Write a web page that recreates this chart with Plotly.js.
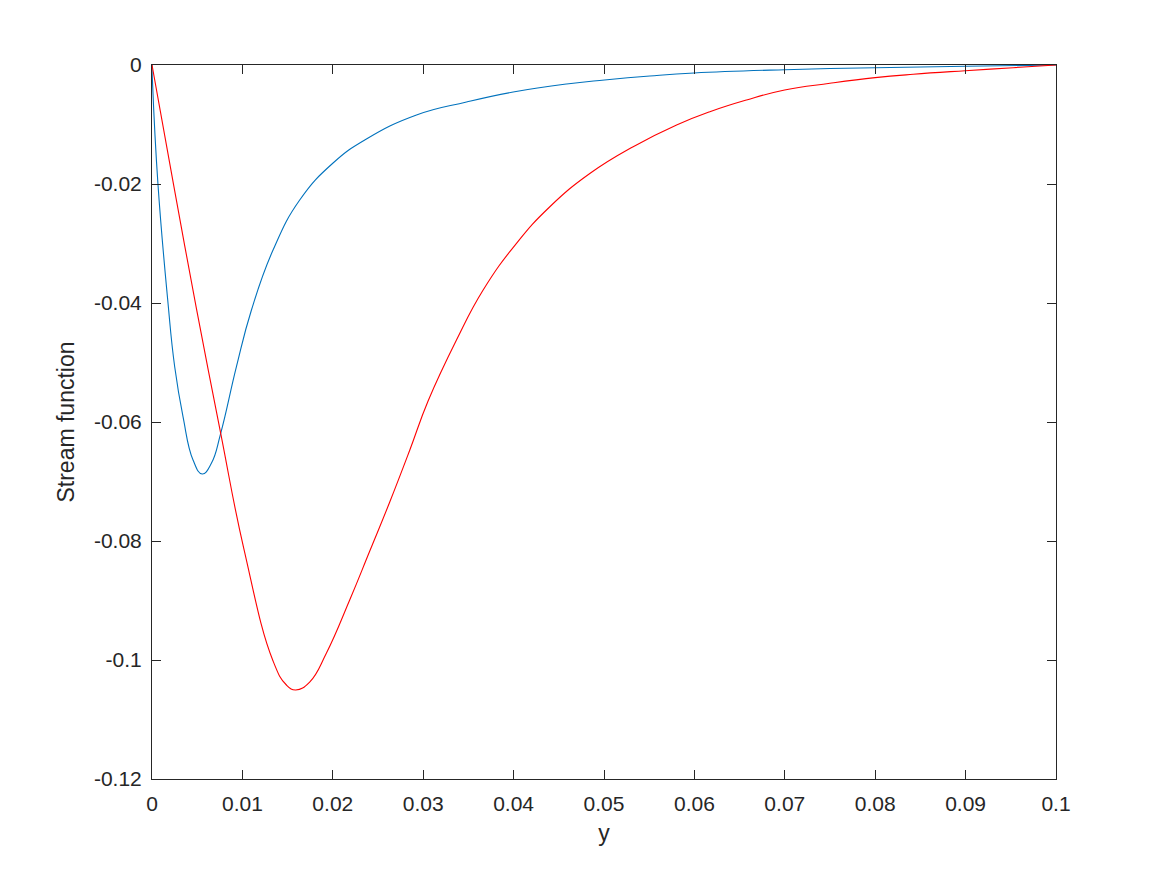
<!DOCTYPE html>
<html>
<head>
<meta charset="utf-8">
<script src="https://cdn.plot.ly/plotly-3.0.1.min.js"></script>
<style>
  html, body { margin: 0; padding: 0; background: #fff; }
  #plot { width: 1167px; height: 875px; }
</style>
</head>
<body>
<div id="plot"></div>
<script>
// values
var blueX = [0, 0.00004, 0.00066, 0.00174, 0.00251, 0.00343, 0.00454, 0.00555,
  0.00657, 0.0076, 0.00934, 0.011, 0.01339, 0.01634, 0.02003, 0.02372, 0.02926, 0.03479,
  0.03995, 0.04586, 0.05006, 0.05507, 0.05998, 0.07, 0.08, 0.09, 0.1];
var blueY = [0, -0.00224, -0.02005, -0.0395, -0.05071, -0.05911, -0.06639, -0.06874,
  -0.06694, -0.0619, -0.05071, -0.04118, -0.03109, -0.02269, -0.01647, -0.01244, -0.0084, -0.00622,
  -0.00454, -0.00319, -0.00252, -0.00185, -0.00134, -0.00079, -0.00045, -0.00022, 0];

var redX = [0, 0.00238, 0.00491, 0.0076, 0.01015, 0.01339, 0.01487, 0.0159, 0.01744,
  0.0193, 0.02187, 0.02409, 0.0263, 0.02852, 0.03054, 0.03368, 0.03663, 0.04032, 0.04401,
  0.04843, 0.05323, 0.05803, 0.06171, 0.06577, 0.06998, 0.07499, 0.08, 0.08421, 0.08996,
  0.09527, 0.1];
var redY = [0, -0.02005, -0.04089, -0.0619, -0.08123, -0.10017, -0.1042, -0.10504, -0.1037,
  -0.09882, -0.08992, -0.08168, -0.07345, -0.06471, -0.05647, -0.04622, -0.03782, -0.02997, -0.02382,
  -0.01824, -0.01373, -0.01008, -0.00785, -0.00588, -0.0042, -0.00308, -0.00213, -0.00156, -0.00096,
  -0.00045, 0];

var xTicks = [0, 0.01, 0.02, 0.03, 0.04, 0.05, 0.06, 0.07, 0.08, 0.09, 0.1];
var xTickText = ["0", "0.01", "0.02", "0.03", "0.04", "0.05", "0.06", "0.07", "0.08", "0.09", "0.1"];
var yTicks = [-0.12, -0.1, -0.08, -0.06, -0.04, -0.02, 0];
var yTickText = ["-0.12", "-0.1", "-0.08", "-0.06", "-0.04", "-0.02", "0"];

var trace1 = {
  x: blueX,
  y: blueY,
  mode: "lines",
  line: { color: "#0072BD", width: 1.1, shape: "spline", smoothing: 1.3 },
  hoverinfo: "skip"
};

var trace2 = {
  x: redX,
  y: redY,
  mode: "lines",
  line: { color: "#FF0000", width: 1.1, shape: "spline", smoothing: 1.3 },
  hoverinfo: "skip"
};

var fontFamily = "Liberation Sans, Arial, sans-serif";

var axisStyle = {
  showgrid: false,
  zeroline: false,
  showline: true,
  linecolor: "#262626",
  linewidth: 1,
  mirror: "ticks",
  ticks: "inside",
  ticklen: 9,
  tickwidth: 1,
  tickcolor: "#262626",
  tickfont: { family: fontFamily, size: 21, color: "#262626" }
};

var layout = {
  width: 1167,
  height: 875,
  margin: { l: 152, r: 111, t: 65, b: 96 },
  paper_bgcolor: "#ffffff",
  plot_bgcolor: "#ffffff",
  showlegend: false,
  xaxis: Object.assign({}, axisStyle, {
    range: [0, 0.1],
    tickvals: xTicks,
    ticktext: xTickText,
    ticklabelstandoff: 6,
    title: { text: "y", standoff: 10, font: { family: fontFamily, size: 23, color: "#262626" } }
  }),
  yaxis: Object.assign({}, axisStyle, {
    range: [-0.12, 0],
    tickvals: yTicks,
    ticktext: yTickText,
    ticklabelstandoff: 5,
    title: { text: "Stream function", standoff: 12, font: { family: fontFamily, size: 23, color: "#262626" } }
  })
};

Plotly.newPlot("plot", [trace1, trace2], layout, { displayModeBar: false, staticPlot: true });
</script>
</body>
</html>
